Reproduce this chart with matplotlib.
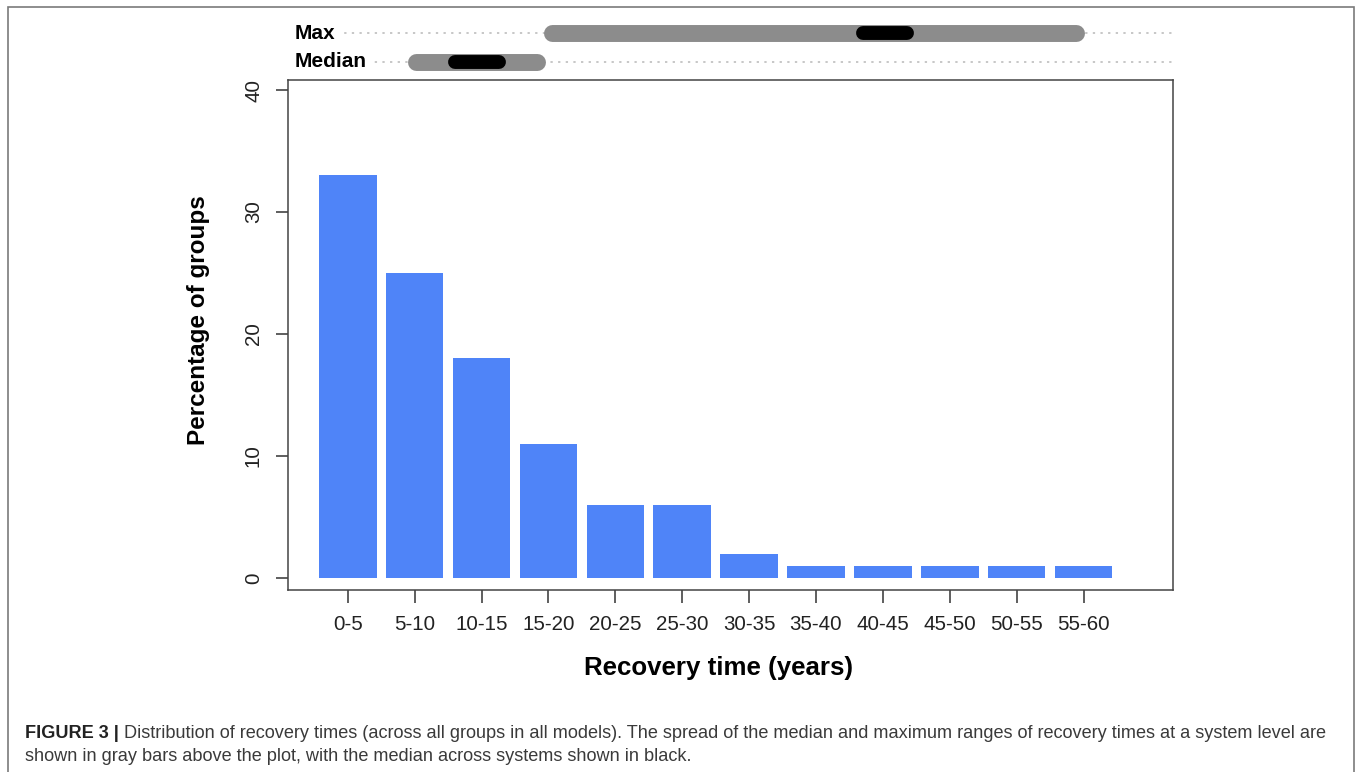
import numpy as np
import matplotlib
matplotlib.use('Agg')
from matplotlib import pyplot as plt
from matplotlib import font_manager
from matplotlib.patches import Rectangle

plt.rcParams['font.family'] = ['Liberation Sans', 'DejaVu Sans']

# bar chart data
categories = ['0-5', '5-10', '10-15', '15-20', '20-25', '25-30',
              '30-35', '35-40', '40-45', '45-50', '50-55', '55-60']
percent_groups = [33, 25, 18, 11, 6, 6, 2, 1, 1, 1, 1, 1]
y_ticks = [0, 10, 20, 30, 40]

# system level spread of recovery times (years): gray = range, black = median across systems
range_rows = ['Max', 'Median']
range_spread = [(17.1, 57.6), (7.0, 17.3)]
range_middle = [(40.5, 44.8), (10.0, 14.3)]

caption_head = 'FIGURE 3 |'
caption_lines = [
    'Distribution of recovery times (across all groups in all models). The spread of the median '
    'and maximum ranges of recovery times at a system level are',
    'shown in gray bars above the plot, with the median across systems shown in black.',
]

W, H = 1357, 772
BLUE = '#4f84f8'


def px_box(x0, y0, x1, y1):
    # pixel box (top-left origin) -> figure fraction rect
    return [x0 / W, 1 - y1 / H, (x1 - x0) / W, (y1 - y0) / H]


fig = plt.figure(figsize=(W / 100, H / 100), dpi=100)

ax = fig.add_axes(px_box(288, 80, 1173, 590))
x = np.arange(len(categories))
ax.bar(x, percent_groups, width=0.86, color=BLUE, zorder=2)
ax.set_xlim(-0.894, 12.338)
ax.set_ylim(-0.98, 40.82)
ax.set_xticks(x, categories)
ax.set_yticks(y_ticks)
ax.tick_params(axis='both', length=9, width=1.1, color='#333333',
               labelsize=14.8, labelcolor='#222222')
ax.tick_params(axis='x', pad=9)
ax.tick_params(axis='y', pad=9, labelrotation=90)
for lbl in ax.get_yticklabels():
    lbl.set_verticalalignment('center')
for sp in ax.spines.values():
    sp.set_color('#444444')
    sp.set_linewidth(1.1)

ax.set_xlabel('Recovery time (years)', fontsize=18.6, fontweight='bold')
ax.xaxis.set_label_coords(0.486, -0.129)
ax.set_ylabel('Percentage of groups', fontsize=17.5, fontweight='bold')
ax.yaxis.set_label_coords(-0.088, 0.529)

# range bars above the plot
ax_top = fig.add_axes(px_box(288, 18, 1173, 78))
ax_top.set_xlim(ax.get_xlim())
ax_top.set_ylim(0, 1)
ax_top.axis('off')

px_per_unit = 885 / (ax.get_xlim()[1] - ax.get_xlim()[0])
row_y = {'Max': 0.75, 'Median': 0.275}

names = {f.name for f in font_manager.fontManager.ttflist}
if 'Liberation Sans Narrow' in names:
    label_font, label_size = ['Liberation Sans Narrow', 'Liberation Sans'], 18.5
else:
    label_font, label_size = ['Liberation Sans', 'DejaVu Sans'], 15


def year_to_x(yr):
    return yr / 5 - 0.5


def range_line(lo, hi, y, lw_pt, color):
    inset = lw_pt * 100 / 72 / 2 / px_per_unit
    ax_top.plot([year_to_x(lo) + inset, year_to_x(hi) - inset], [y, y],
                color=color, lw=lw_pt, solid_capstyle='round', zorder=3)


for name, spread, mid in zip(range_rows, range_spread, range_middle):
    y = row_y[name]
    ax_top.plot([0.02, 1.0], [y, y], transform=ax_top.transAxes, color='#b8b8b8',
                lw=1.1, ls=(0, (1.5, 3.5)), zorder=1)
    range_line(spread[0], spread[1], y, 12.2, '#8c8c8c')
    range_line(mid[0], mid[1], y, 10.0, '#000000')
    ax_top.text(0.008, y, name, transform=ax_top.transAxes, ha='left', va='center',
                family=label_font, fontsize=label_size, fontweight='bold', zorder=4,
                bbox=dict(facecolor='white', edgecolor='none', boxstyle='square,pad=0.3'))

# frame round the figure and caption
fig.add_artist(Rectangle((8 / W, -0.1), (1354 - 8) / W, 1.1 - 7 / H,
                         transform=fig.transFigure, fill=False,
                         edgecolor='#7a7a7a', lw=1.2))

head = fig.text(25 / W, 1 - 741.5 / H, caption_head, fontsize=13.1, fontweight='bold',
                color='#222222', va='bottom')
ax.annotate(caption_lines[0], xy=(1, 0), xycoords=head, xytext=(4, 0),
            textcoords='offset points', fontsize=13.1, color='#3a3a3a',
            va='bottom', ha='left', annotation_clip=False)
fig.text(25 / W, 1 - 760.7 / H, caption_lines[1], fontsize=13.1, color='#3a3a3a',
         va='baseline')

plt.savefig('out.png', dpi=100)
plt.close()
